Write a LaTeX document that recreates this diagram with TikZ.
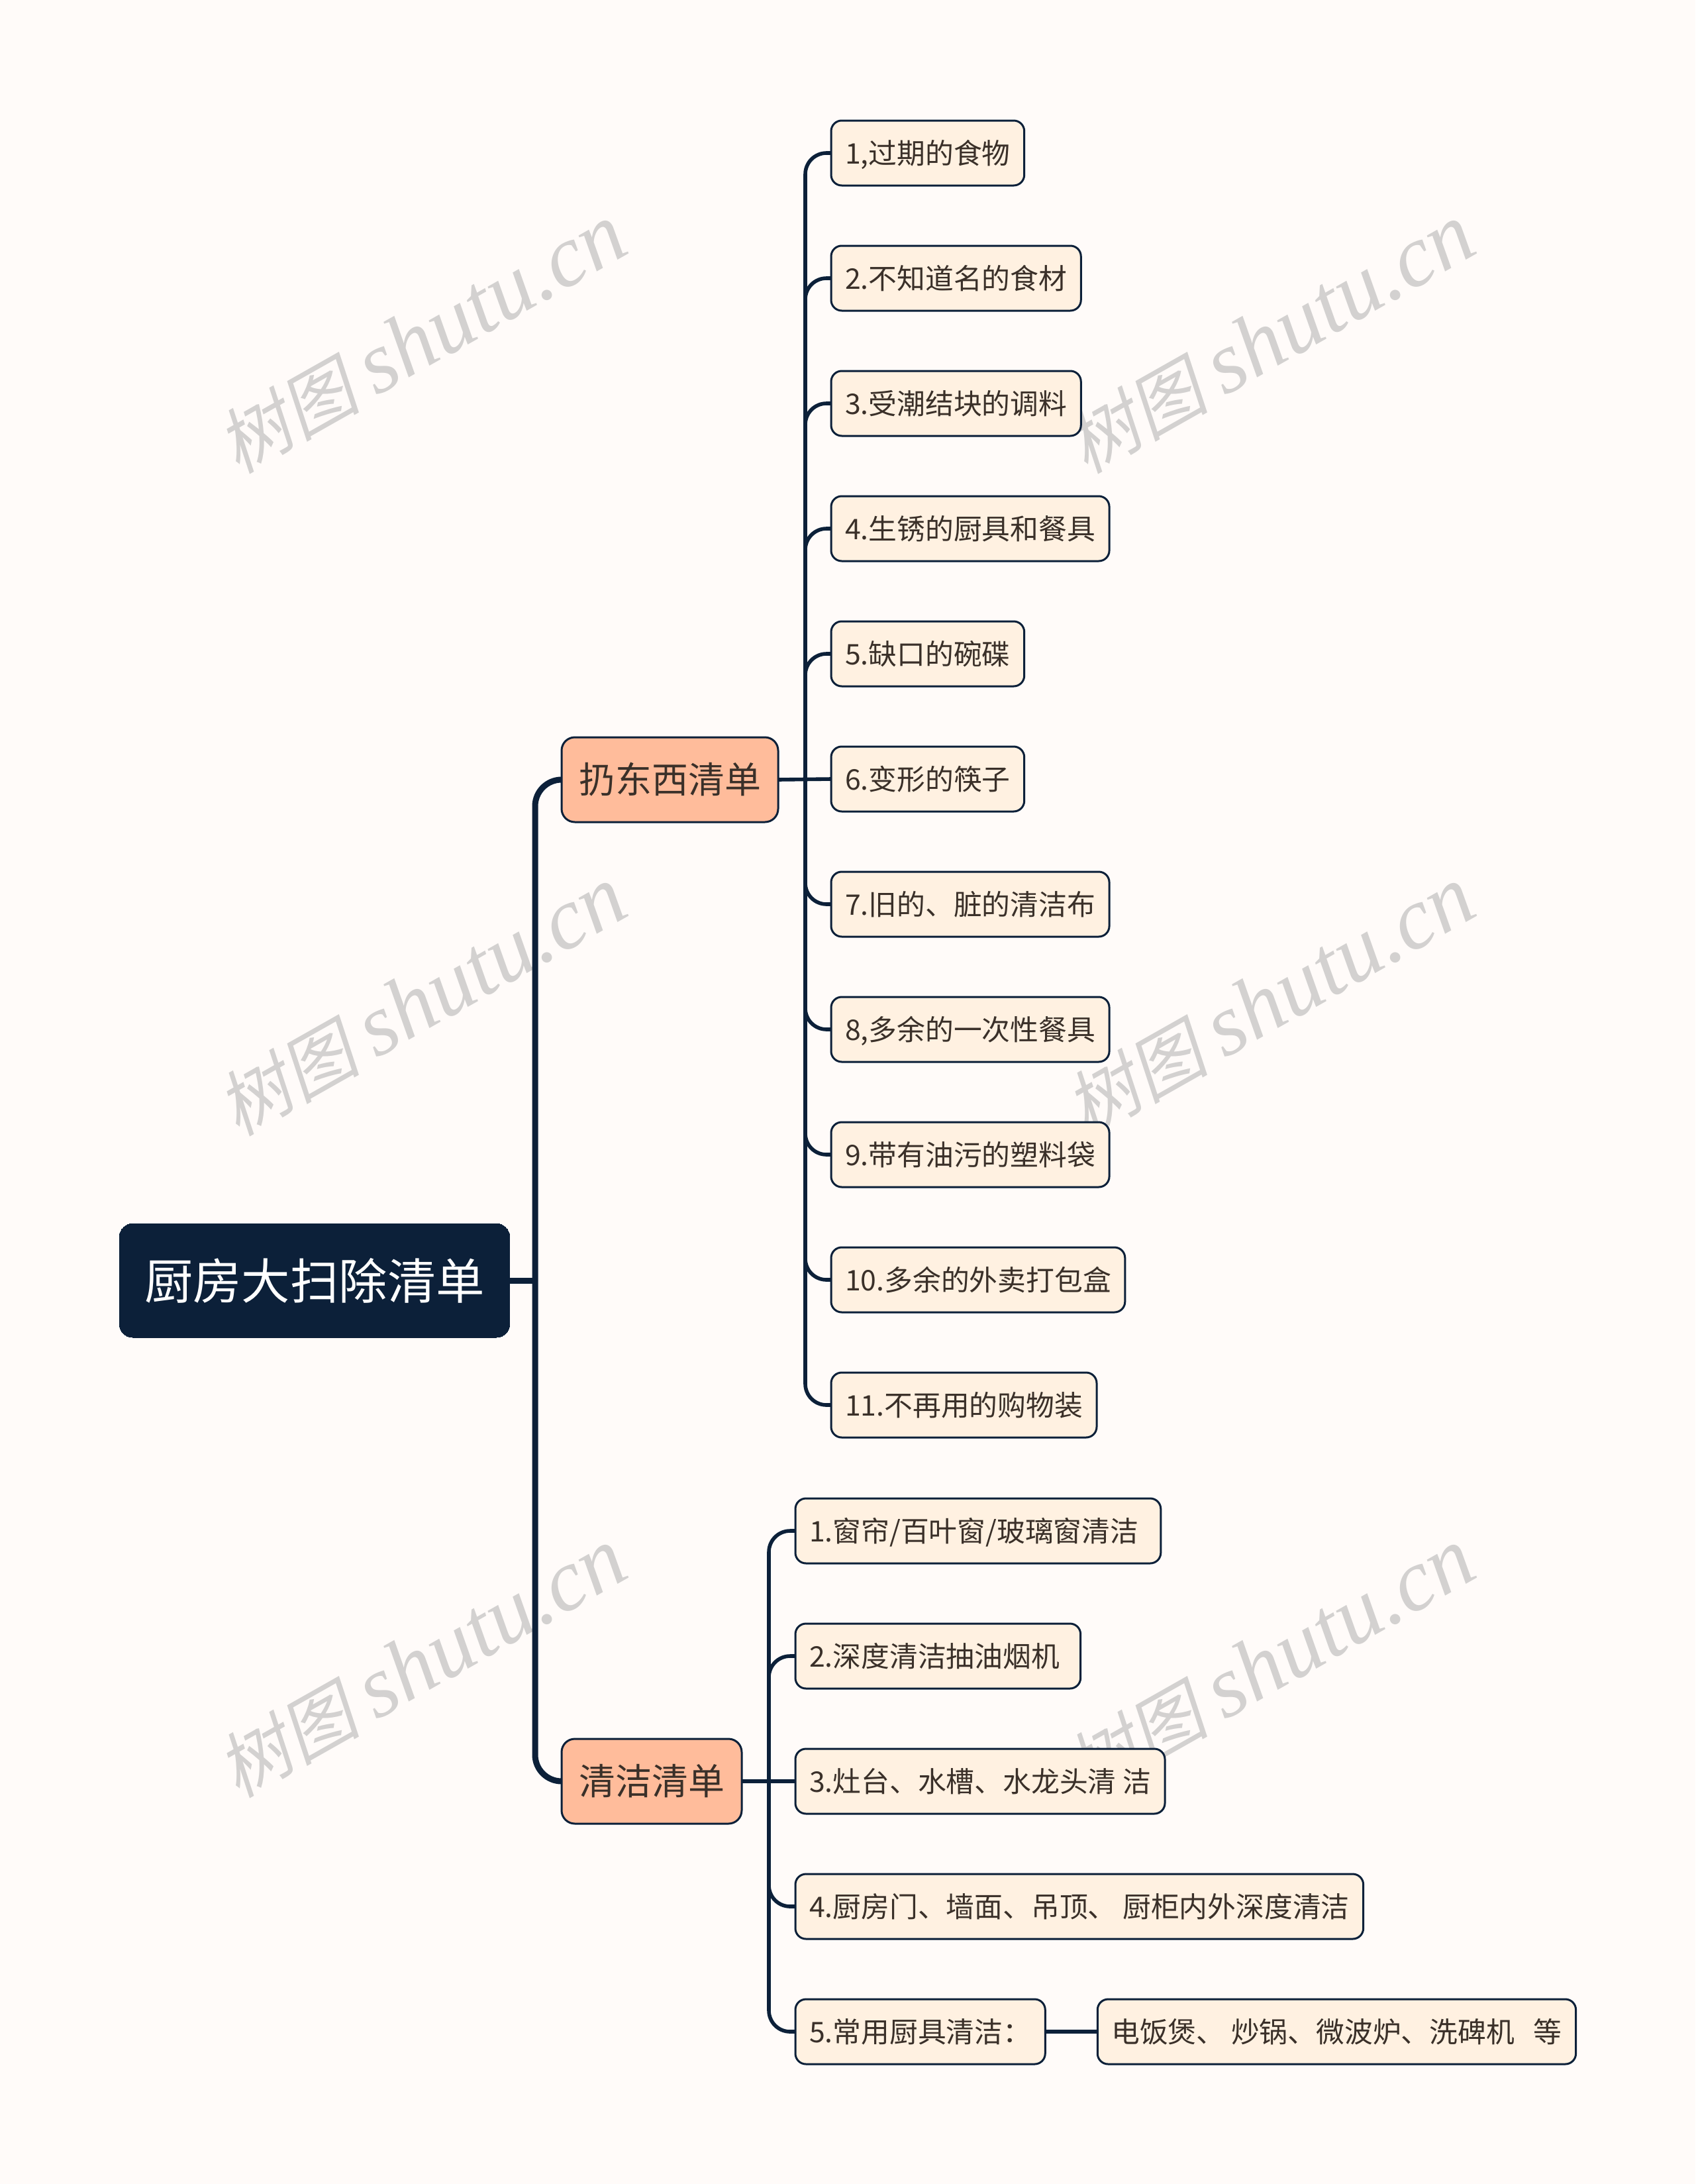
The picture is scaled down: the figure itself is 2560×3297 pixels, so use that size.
\documentclass[tikz,border=0pt]{standalone}
\usepackage{fontspec}
\setmainfont{Noto Sans CJK SC}
\newfontfamily\markcjk[FakeSlant=0.2]{Noto Sans CJK SC}
\newfontfamily\marklatin{Liberation Serif}
\usetikzlibrary{positioning}

\definecolor{navy}{HTML}{0C2039}
\definecolor{paper}{HTML}{FFFBF9}
\definecolor{peach}{HTML}{FFBC9B}
\definecolor{cream}{HTML}{FFF1E1}
\definecolor{ink}{HTML}{3A3029}
\definecolor{mark}{HTML}{D3D1D0}

\tikzset{
	rootbox/.style={draw=navy, fill=navy, text=white, rounded corners=10pt, line width=0pt, outer sep=0pt, inner sep=0pt, minimum width=294.5pt, minimum height=86pt, font=\fontsize{36.7pt}{40pt}\selectfont},
	groupbox/.style={draw=navy, fill=peach, text=ink, rounded corners=10pt, line width=1.5pt, outer sep=0pt, inner xsep=13pt, inner ysep=0pt, minimum height=64pt, font=\fontsize{27.5pt}{30pt}\selectfont},
	leafbox/.style={draw=navy, fill=cream, text=ink, rounded corners=8pt, line width=1.5pt, outer sep=0pt, inner xsep=10.5pt, inner ysep=0pt, minimum height=49pt, text height=18pt, text depth=2pt, font=\fontsize{21.4pt}{24pt}\selectfont},
	trunkline/.style={draw=navy, line width=4.5pt},
	busline/.style={draw=navy, line width=2.8pt},
	watermark/.style={text=mark, rotate=29.5, inner sep=0pt, font=\fontsize{54pt}{60pt}\selectfont},
}

\newcommand{\shutumark}{{\markcjk 树图} {\marklatin\fontsize{66pt}{70pt}\selectfont\itshape shutu.cn}}

\begin{document}
\begin{tikzpicture}[
		x=0.5pt, y=-0.5pt,
		node distance=45.5pt,
	]
		\useasboundingbox [fill=paper] (0,0) rectangle (2560,3297);
		
		\node [watermark] (markA) at (637,512) {\shutumark};
		\node [watermark] (markB) at (1918,512) {\shutumark};
		\node [watermark] (markC) at (637,1512) {\shutumark};
		\node [watermark] (markD) at (1918,1512) {\shutumark};
		\node [watermark] (markE) at (637,2511) {\shutumark};
		\node [watermark] (markF) at (1918,2511) {\shutumark};
		
		\node [rootbox] (root) at (475,1933) {厨房大扫除清单};
		\node [groupbox, anchor=west] (toss) at (848,1177) {扔东西清单};
		\node [groupbox, anchor=west] (clean) at (848,2689) {清洁清单};
		
		\node [leafbox, anchor=west] (tossA) at (1255,231) {1,过期的食物};
		\node [leafbox, below=of tossA.south west, anchor=north west] (tossB) {2.不知道名的食材};
		\node [leafbox, below=of tossB.south west, anchor=north west] (tossC) {3.受潮结块的调料};
		\node [leafbox, below=of tossC.south west, anchor=north west] (tossD) {4.生锈的厨具和餐具};
		\node [leafbox, below=of tossD.south west, anchor=north west] (tossE) {5.缺口的碗碟};
		\node [leafbox, below=of tossE.south west, anchor=north west] (tossF) {6.变形的筷子};
		\node [leafbox, below=of tossF.south west, anchor=north west] (tossG) {7.旧的、脏的清洁布};
		\node [leafbox, below=of tossG.south west, anchor=north west] (tossH) {8,多余的一次性餐具};
		\node [leafbox, below=of tossH.south west, anchor=north west] (tossI) {9.带有油污的塑料袋};
		\node [leafbox, below=of tossI.south west, anchor=north west] (tossJ) {10.多余的外卖打包盒};
		\node [leafbox, below=of tossJ.south west, anchor=north west] (tossK) {11.不再用的购物装};
		
		\node [leafbox, anchor=west] (cleanA) at (1201,2311) {1.窗帘/百叶窗/玻璃窗清洁\kern6.3pt};
		\node [leafbox, below=of cleanA.south west, anchor=north west] (cleanB) {2.深度清洁抽油烟机\kern5.3pt};
		\node [leafbox, below=of cleanB.south west, anchor=north west] (cleanC) {3.灶台、水槽、水龙头清 洁};
		\node [leafbox, below=of cleanC.south west, anchor=north west] (cleanD) {4.厨房门、墙面、吊顶、 厨柜内外深度清洁};
		\node [leafbox, below=of cleanD.south west, anchor=north west] (cleanE) {5.常用厨具清洁：};
		\node [leafbox, right=39.5pt of cleanE] (cleanEA) {电饭煲、 炒锅、微波炉、洗碑机\ \ \ 等};
		
		\coordinate (trunk) at (808,1933);
		\coordinate (tossbus) at (1216,1177);
		\coordinate (cleanbus) at (1161,2689);
		
		\draw [trunkline] (root.east) -- (trunk);
		\draw [trunkline, rounded corners=20pt] (trunk) |- (toss.west);
		\draw [trunkline, rounded corners=20pt] (trunk) |- (clean.west);
		
		\draw [busline] (toss.east) -- (tossF.west);
		\draw [busline, rounded corners=16pt] (tossbus) |- (tossA.west);
		\draw [busline, rounded corners=16pt] (tossbus) |- (tossB.west);
		\draw [busline, rounded corners=16pt] (tossbus) |- (tossC.west);
		\draw [busline, rounded corners=16pt] (tossbus) |- (tossD.west);
		\draw [busline, rounded corners=16pt] (tossbus) |- (tossE.west);
		\draw [busline, rounded corners=16pt] (tossbus) |- (tossG.west);
		\draw [busline, rounded corners=16pt] (tossbus) |- (tossH.west);
		\draw [busline, rounded corners=16pt] (tossbus) |- (tossI.west);
		\draw [busline, rounded corners=16pt] (tossbus) |- (tossJ.west);
		\draw [busline, rounded corners=16pt] (tossbus) |- (tossK.west);
		
		\draw [busline] (clean.east) -- (cleanC.west);
		\draw [busline, rounded corners=16pt] (cleanbus) |- (cleanA.west);
		\draw [busline, rounded corners=16pt] (cleanbus) |- (cleanB.west);
		\draw [busline, rounded corners=16pt] (cleanbus) |- (cleanD.west);
		\draw [busline, rounded corners=16pt] (cleanbus) |- (cleanE.west);
		\draw [busline] (cleanE.east) -- (cleanEA.west);
	\end{tikzpicture}
\end{document}
